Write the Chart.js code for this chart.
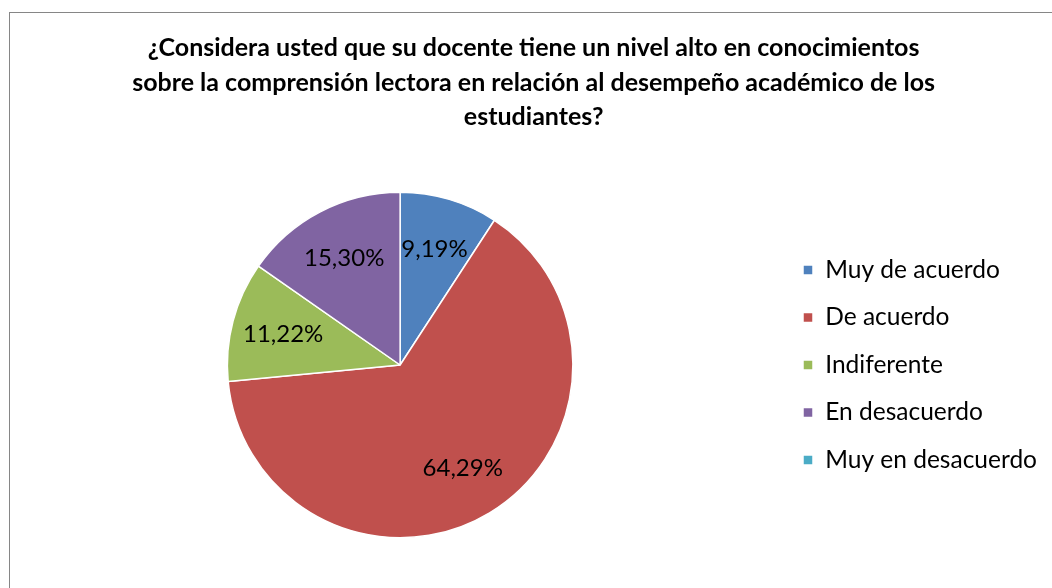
<!DOCTYPE html>
<html>
<head>
<meta charset="utf-8">
<script src="https://cdn.jsdelivr.net/npm/chart.js@4"></script>
<style>
  body { margin: 0; width: 1052px; height: 588px; overflow: hidden; background: #fff; position: relative; }
  #frame { position: absolute; left: 9px; top: 12px; width: 2000px; height: 2000px; border-left: 1px solid #868686; border-top: 1px solid #868686; }
  #respuestaChart { position: absolute; left: 10px; top: 13px; }
</style>
</head>
<body>
<div id="frame"></div>
<canvas id="respuestaChart" width="1042" height="575"></canvas>
<script>
const categorias = ['Muy de acuerdo', 'De acuerdo', 'Indiferente', 'En desacuerdo', 'Muy en desacuerdo'];
const porcentajes = [9.19, 64.29, 11.22, 15.30, 0];
const colores = ['#4F81BD', '#C0504D', '#9BBB59', '#8064A2', '#4BACC6'];
const tituloLineas = [
  '¿Considera usted que su docente tiene un nivel alto en conocimientos',
  'sobre la comprensión lectora en relación al desempeño académico de los',
  'estudiantes?'
];

// etiquetas de porcentaje dentro de cada sector
const etiquetasPct = {
  id: 'etiquetasPct',
  afterDatasetsDraw(chart) {
    const ctx = chart.ctx;
    const meta = chart.getDatasetMeta(0);
    ctx.save();
    ctx.font = '24px Lato';
    ctx.fillStyle = '#000';
    ctx.textAlign = 'center';
    ctx.textBaseline = 'middle';
    meta.data.forEach((arc, i) => {
      const v = porcentajes[i];
      if (!v) return;
      const p = arc.getProps(['x', 'y', 'startAngle', 'endAngle', 'outerRadius'], true);
      const mid = (p.startAngle + p.endAngle) / 2;
      const r = p.outerRadius * 0.7;
      ctx.fillText(v.toFixed(2).replace('.', ',') + '%', p.x + Math.cos(mid) * r, p.y + Math.sin(mid) * r);
    });
    ctx.restore();
  }
};

const ctxRespuesta = document.getElementById('respuestaChart').getContext('2d');
const respuestaChart = new Chart(ctxRespuesta, {
  type: 'pie',
  data: {
    labels: categorias,
    datasets: [{
      data: porcentajes,
      backgroundColor: colores,
      borderColor: '#ffffff',
      borderWidth: 1.5
    }]
  },
  options: {
    responsive: false,
    animation: false,
    layout: { padding: { left: 10.25, right: 5, top: 0, bottom: 49.5 } },
    plugins: {
      title: {
        display: true,
        text: tituloLineas,
        color: '#000',
        font: { family: 'Lato', size: 25, weight: 'bold', lineHeight: 1.38 },
        padding: { top: 17.75, bottom: 57.25 }
      },
      legend: {
        position: 'right',
        fullSize: false,
        labels: {
          color: '#000',
          font: { family: 'Lato', size: 24.5 },
          boxWidth: 10,
          boxHeight: 10,
          padding: 23
        }
      },
      tooltip: { enabled: false }
    }
  },
  plugins: [etiquetasPct]
});
</script>
</body>
</html>
